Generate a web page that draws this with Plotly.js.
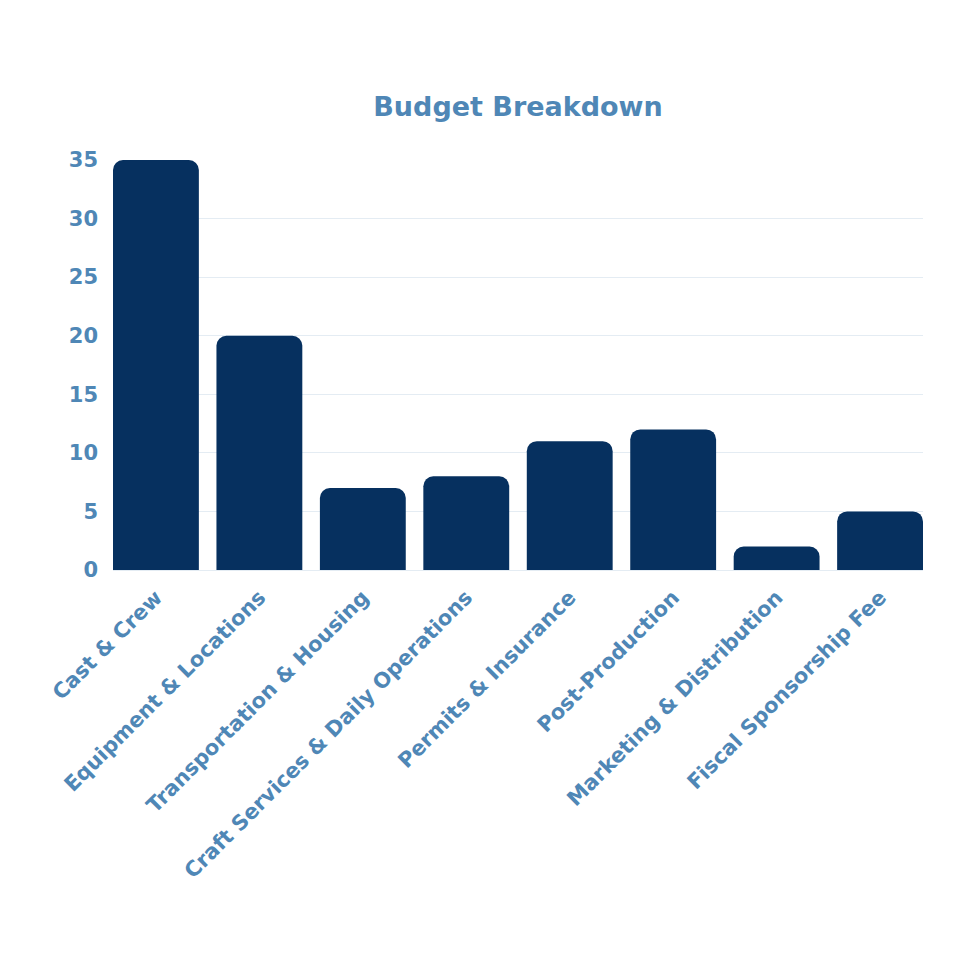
<!DOCTYPE html>
<html>
<head>
<meta charset="utf-8">
<script src="https://cdn.plot.ly/plotly-3.0.1.min.js"></script>
<style>
  html, body { margin: 0; padding: 0; background: #ffffff; }
  #myDiv { width: 980px; height: 980px; }
</style>
</head>
<body>
<div id="myDiv"></div>
<script>
var categories = ["Cast & Crew", "Equipment & Locations", "Transportation & Housing",
  "Craft Services & Daily Operations", "Permits & Insurance", "Post-Production",
  "Marketing & Distribution", "Fiscal Sponsorship Fee"];
var budget = [35, 20, 7, 8, 11, 12, 2, 5];
var yTicks = [0, 5, 10, 15, 20, 25, 30, 35];

var textColor = '#4f87b6';
var barColor = '#06305f';
var fontName = 'DejaVu Sans, sans-serif';
var gap = 0.17;

var bars = {
  x: categories,
  y: budget,
  type: 'bar',
  marker: { color: barColor, cornerradius: 10 },
  hoverinfo: 'x+y'
};

var layout = {
  width: 980,
  height: 980,
  margin: { l: 113, r: 57, t: 160, b: 410 },
  paper_bgcolor: '#ffffff',
  plot_bgcolor: '#ffffff',
  showlegend: false,
  bargap: gap,
  font: { family: fontName, color: textColor },
  title: {
    text: '<b>Budget Breakdown</b>',
    font: { family: fontName, size: 27, color: textColor },
    xref: 'paper',
    x: 0.5,
    xanchor: 'center',
    yref: 'container',
    y: 1 - 107 / 980,
    yanchor: 'middle'
  },
  xaxis: {
    type: 'category',
    range: [-0.5 + gap / 2, categories.length - 0.5 - gap / 2],
    tickangle: -45,
    tickfont: { family: fontName, size: 21, color: textColor, weight: 'bold' },
    showgrid: false,
    zeroline: false,
    showline: false,
    ticks: '',
    ticklen: 0,
    ticklabelstandoff: 10,
    automargin: false
  },
  yaxis: {
    range: [0, 35],
    tickvals: yTicks,
    ticktext: yTicks.map(String),
    tickfont: { family: fontName, size: 21, color: textColor, weight: 'bold' },
    gridcolor: '#e4ecf3',
    gridwidth: 1,
    zeroline: true,
    zerolinecolor: '#e4ecf3',
    showline: false,
    ticks: '',
    ticklabelstandoff: 14,
    automargin: false
  }
};

Plotly.newPlot('myDiv', [bars], layout, { displayModeBar: false, staticPlot: true });
</script>
</body>
</html>
